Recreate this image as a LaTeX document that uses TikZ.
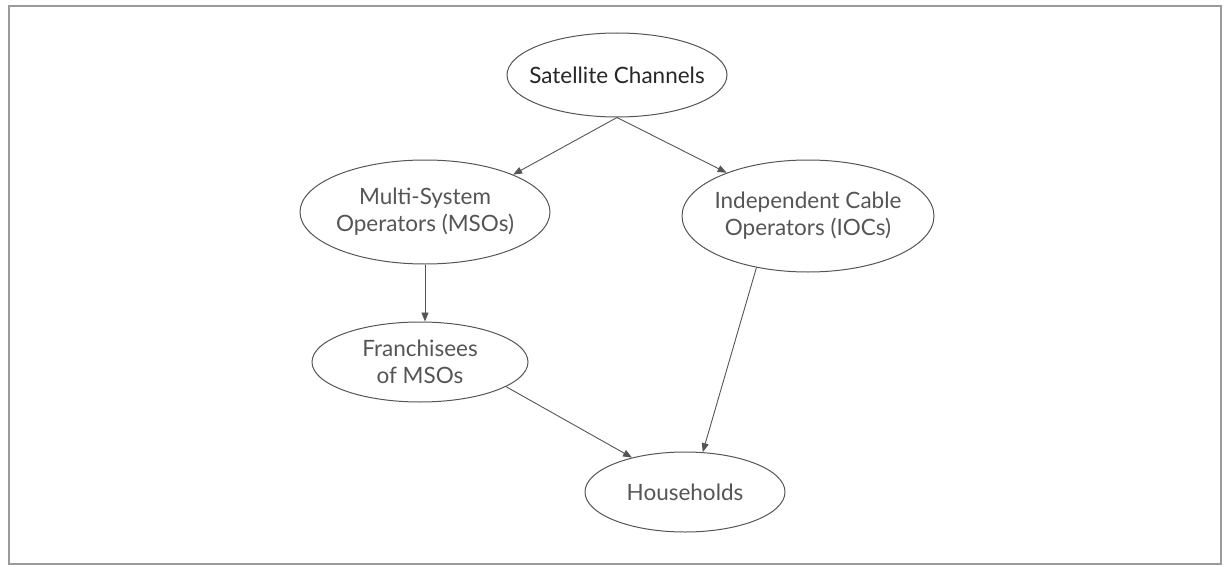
\documentclass[tikz,border=0pt]{standalone}
\usepackage{fontspec}
\setmainfont{Lato}
\usetikzlibrary{shapes.geometric,arrows.meta}
\definecolor{inkgray}{HTML}{555555}
\definecolor{framegray}{HTML}{9A9A9A}
\begin{document}
\begin{tikzpicture}[x=1pt,y=-1pt,
  bubble/.style={ellipse,draw=inkgray,line width=1pt,inner xsep=-30pt,inner ysep=-12pt,
    text=inkgray,align=center,font=\fontsize{22.5}{27}\selectfont},
  flow/.style={draw=inkgray,line width=0.9pt,-{Triangle[length=9pt,width=7pt]}}]
  \useasboundingbox (0,0) rectangle (1225,567);
  \draw[framegray,line width=2.2pt] (9,6) rectangle (1221,564);

  \node[bubble,minimum width=220pt,minimum height=84pt,text=black!85]
        (sat) at (617,75) {Satellite Channels};
  \node[bubble,minimum width=250pt,minimum height=104pt]
        (mso) at (425,212) {Multi-System\\Operators (MSOs)};
  \node[bubble,minimum width=252pt,minimum height=112pt]
        (ioc) at (808,216) {Independent Cable\\Operators (IOCs)};
  \node[bubble,minimum width=216pt,minimum height=80pt]
        (fr) at (420,362) {Franchisees\\of MSOs};
  \node[bubble,minimum width=200pt,minimum height=80pt]
        (hh) at (685,492) {Households};

  \draw[flow] (sat.south) -- (mso.23);
  \draw[flow] (sat.south) -- (ioc.152);
  \draw[flow] (mso.south) -- (mso.south |- fr.north);
  \draw[flow] (ioc.225) -- (hh.66);
  \draw[flow] (fr.-16) -- (hh.147);
\end{tikzpicture}
\end{document}
